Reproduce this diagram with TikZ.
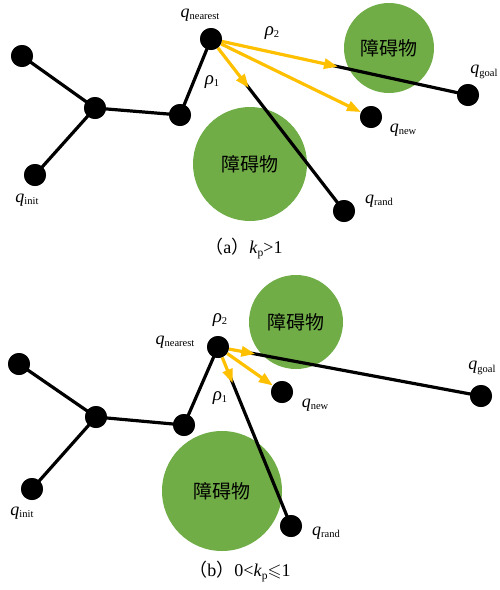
\documentclass[tikz,border=0pt]{standalone}
\usepackage{fontspec}
\usepackage{amssymb}
\setmainfont{Liberation Serif}
\newfontfamily\cjk{Noto Sans CJK SC}
\usetikzlibrary{arrows.meta,calc}
\definecolor{obsgreen}{HTML}{70AD47}
\definecolor{arrowyellow}{HTML}{FFC000}
\newcommand\qlab[1]{{\fontsize{18}{18}\selectfont\textit{q}}\raisebox{-2.5pt}{\fontsize{10.5}{10.5}\selectfont #1}}
\newcommand\rholab[1]{{\fontsize{19}{19}\selectfont\textit{ρ}}\raisebox{-2.5pt}{\fontsize{10.5}{10.5}\selectfont #1}}
\tikzset{
  vtx/.style={circle,fill=black,draw=none,minimum size=22pt,inner sep=0pt},
  obst/.style={circle,fill=obsgreen,draw=none,inner sep=0pt,font=\cjk\fontsize{19}{19}\selectfont},
  tedge/.style={line width=3.2pt,black},
  yarrow/.style={line width=3.2pt,arrowyellow,-{Triangle[length=14pt,width=10pt]}},
  lab/.style={inner sep=0pt},
  captext/.style={inner sep=0pt,font=\fontsize{18}{18}\selectfont}
}
\begin{document}
\begin{tikzpicture}[x=1pt,y=-1pt]
\useasboundingbox (0,0) rectangle (500,590);
% ---------- panel (a) ----------
\node[obst,minimum size=90pt] (oa1) at (389,48) {障碍物};
\node[obst,minimum size=114pt] (oa2) at (250,164) {障碍物};
\node[vtx] (aA) at (22,56) {};
\node[vtx] (aB) at (95,108) {};
\node[vtx] (aC) at (35,175) {};
\node[vtx] (aD) at (180,115) {};
\node[vtx] (aN) at (211,39) {};
\node[vtx] (aG) at (468,95) {};
\node[vtx] (aW) at (371,117) {};
\node[vtx] (aR) at (344,211) {};
\coordinate (aP1) at ($(aN.center)!62pt!(aR.center)$);
\coordinate (aP2) at ($(aN.center)!130pt!(aG.center)$);
\coordinate (aQ1) at ($(aN.center)!55pt!(aR.center)$);
\coordinate (aQ2) at ($(aN.center)!123pt!(aG.center)$);
\draw[tedge] (aA.center) -- (aB.center) -- (aD.center) -- (aN.center);
\draw[tedge] (aC.center) -- (aB.center);
\draw[tedge] (aQ1) -- (aR.center);
\draw[tedge] (aQ2) -- (aG.center);
\draw[yarrow] (aN) -- (aP1);
\draw[yarrow] (aN) -- (aP2);
\draw[yarrow] (aN) -- (aW);
\foreach \n in {aA,aB,aC,aD,aN,aG,aW,aR} \fill (\n) circle (11pt);
\node[lab] (laN) at (200,15) {\qlab{nearest}};
\node[lab] (laI) at (27,200) {\qlab{init}};
\node[lab] (laG) at (484,72) {\qlab{goal}};
\node[lab] (laW) at (403,130) {\qlab{new}};
\node[lab] (laR) at (379,201) {\qlab{rand}};
\node[lab] (laP1) at (212,82) {\rholab{1}};
\node[lab] (laP2) at (272,33) {\rholab{2}};
\node[captext] (capa) at (244,249) {{\cjk （}a{\cjk ）}\textit{k}\raisebox{-3pt}{\fontsize{11.5}{11.5}\selectfont p}>1};
% ---------- panel (b) ----------
\node[obst,minimum size=94pt] (ob1) at (296,322) {障碍物};
\node[obst,minimum size=120pt] (ob2) at (222,491) {障碍物};
\node[vtx] (bA) at (19,364) {};
\node[vtx] (bB) at (96,417) {};
\node[vtx] (bC) at (32,489) {};
\node[vtx] (bD) at (184,425) {};
\node[vtx] (bN) at (218,347) {};
\node[vtx] (bG) at (481,396) {};
\node[vtx] (bW) at (282,392) {};
\node[vtx] (bR) at (291,526) {};
\coordinate (bP1) at ($(bN.center)!39pt!(bR.center)$);
\coordinate (bP2) at ($(bN.center)!38pt!(bG.center)$);
\coordinate (bQ1) at ($(bN.center)!32pt!(bR.center)$);
\coordinate (bQ2) at ($(bN.center)!31pt!(bG.center)$);
\draw[tedge] (bA.center) -- (bB.center) -- (bD.center) -- (bN.center);
\draw[tedge] (bC.center) -- (bB.center);
\draw[tedge] (bQ1) -- (bR.center);
\draw[tedge] (bQ2) -- (bG.center);
\draw[yarrow] (bN) -- (bP1);
\draw[yarrow] (bN) -- (bP2);
\draw[yarrow] (bN) -- (bW);
\foreach \n in {bA,bB,bC,bD,bN,bG,bW,bR} \fill (\n) circle (11pt);
\node[lab] (lbN) at (175,342) {\qlab{nearest}};
\node[lab] (lbI) at (22,513) {\qlab{init}};
\node[lab] (lbG) at (482,368) {\qlab{goal}};
\node[lab] (lbW) at (315,405) {\qlab{new}};
\node[lab] (lbR) at (326,533) {\qlab{rand}};
\node[lab] (lbP1) at (220,398) {\rholab{1}};
\node[lab] (lbP2) at (220,320) {\rholab{2}};
\node[captext] (capb) at (240,572) {{\cjk （}b{\cjk ）}0<\textit{k}\raisebox{-3pt}{\fontsize{11.5}{11.5}\selectfont p}$\leqslant$1};
\end{tikzpicture}
\end{document}
